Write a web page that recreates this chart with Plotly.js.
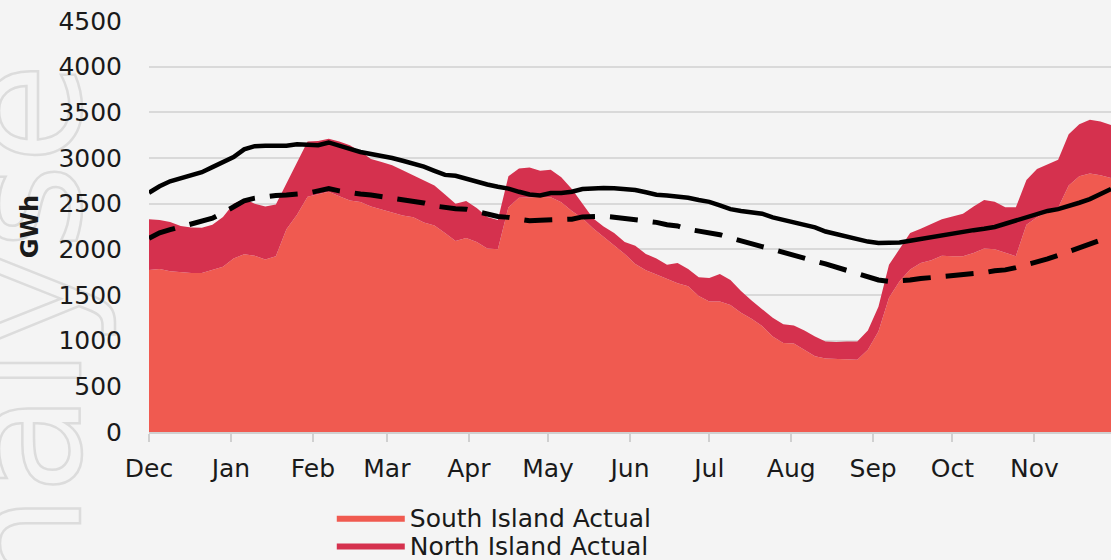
<!DOCTYPE html>
<html>
<head>
<meta charset="utf-8">
<script src="https://cdn.plot.ly/plotly-3.0.1.min.js"></script>
<style>
html,body{margin:0;padding:0;background:#f4f4f4;}
#chart{width:1111px;height:560px;}
</style>
</head>
<body>
<div id="chart"></div>
<script>
const dates = [
"2022-12-01","2022-12-05","2022-12-09","2022-12-13","2022-12-17","2022-12-21","2022-12-25","2022-12-29",
"2023-01-02","2023-01-06","2023-01-10","2023-01-14","2023-01-18","2023-01-22","2023-01-26","2023-01-30",
"2023-02-03","2023-02-07","2023-02-11","2023-02-15","2023-02-19","2023-02-23","2023-02-27",
"2023-03-03","2023-03-07","2023-03-11","2023-03-15","2023-03-19","2023-03-23","2023-03-27","2023-03-31",
"2023-04-04","2023-04-08","2023-04-12","2023-04-16","2023-04-20","2023-04-24","2023-04-28",
"2023-05-02","2023-05-06","2023-05-10","2023-05-14","2023-05-18","2023-05-22","2023-05-26","2023-05-30",
"2023-06-03","2023-06-07","2023-06-11","2023-06-15","2023-06-19","2023-06-23","2023-06-27",
"2023-07-01","2023-07-05","2023-07-09","2023-07-13","2023-07-17","2023-07-21","2023-07-25","2023-07-29",
"2023-08-02","2023-08-06","2023-08-10","2023-08-14","2023-08-18","2023-08-22","2023-08-26","2023-08-30",
"2023-09-03","2023-09-07","2023-09-11","2023-09-15","2023-09-19","2023-09-23","2023-09-27",
"2023-10-01","2023-10-05","2023-10-09","2023-10-13","2023-10-17","2023-10-21","2023-10-25","2023-10-29",
"2023-11-02","2023-11-06","2023-11-10","2023-11-14","2023-11-18","2023-11-22","2023-11-26","2023-11-30"
];

const southIsland = [
1774,1785,1760,1748,1741,1741,1775,1808,
1900,1945,1930,1890,1925,2220,2380,2575,
2604,2630,2580,2535,2519,2470,2435,
2400,2370,2350,2295,2260,2180,2090,2125,
2081,2010,2000,2460,2565,2573,2573,
2570,2515,2420,2340,2230,2140,2050,1950,
1840,1770,1725,1675,1630,1595,1490,
1430,1430,1391,1305,1240,1160,1045,975,
970,900,830,805,800,800,790,900,
1100,1470,1650,1780,1850,1880,1930,
1925,1925,1960,2010,2000,1960,1925,2270,
2350,2410,2455,2700,2800,2830,2810,2781
];

const northIsland = [
556,536,540,507,499,495,495,546,
600,610,570,580,565,500,566,605,
582,580,600,605,551,520,520,
520,495,460,460,440,420,410,405,
372,344,320,340,320,322,287,
300,275,240,160,110,110,130,130,
200,180,175,155,220,190,205,
256,300,273,240,200,185,205,205,
195,210,215,185,185,190,200,210,
270,360,350,399,375,400,400,
435,465,510,530,520,500,535,490,
530,520,525,560,570,590,590,581
];

const solidLine = [
2620,2690,2745,2775,2805,2845,2900,2955,
3010,3095,3130,3135,3130,3135,3150,3140,
3140,3170,3140,3100,3066,3045,3030,
3000,2970,2940,2905,2860,2815,2805,2770,
2740,2710,2685,2665,2630,2600,2590,
2617,2617,2630,2660,2672,2672,2670,2660,
2650,2625,2598,2590,2583,2565,2540,
2520,2480,2440,2420,2410,2390,2350,2320,
2295,2270,2240,2195,2165,2140,2110,2085,
2070,2070,2075,2095,2115,2135,2160,
2175,2195,2210,2225,2245,2280,2315,2350,
2385,2420,2440,2470,2510,2550,2610,2660
];

const dashedLine = [
2120,2180,2215,2245,2270,2300,2340,2400,
2470,2530,2560,2580,2590,2595,2600,2615,
2640,2665,2640,2620,2605,2595,2578,
2565,2555,2535,2508,2475,2455,2445,2440,
2410,2376,2360,2350,2325,2313,2318,
2321,2321,2330,2355,2365,2362,2352,2340,
2330,2310,2295,2270,2256,2220,2200,
2175,2160,2125,2090,2060,2030,2000,1965,
1930,1905,1870,1840,1805,1775,1740,1700,
1665,1650,1655,1665,1680,1690,1695,
1705,1715,1725,1745,1765,1775,1800,1830,
1860,1895,1935,1975,2010,2050,2100,2140
];

const seriesNames = ["South Island Actual", "North Island Actual"];
const yTicks = [0,500,1000,1500,2000,2500,3000,3500,4000,4500];

const FONT = "'DejaVu Sans', Inter, sans-serif";
const TXT = "#1a1a1a";

const traces = [
  {x: dates, y: southIsland, name: seriesNames[0], type: "scatter", mode: "lines", legend: "legend",
   stackgroup: "actual", fillcolor: "#F05A50", line: {width: 0, color: "#F05A50"}},
  {x: dates, y: northIsland, name: seriesNames[1], type: "scatter", mode: "lines", legend: "legend2",
   stackgroup: "actual", fillcolor: "#D5314E", line: {width: 0, color: "#D5314E"}},
  {x: dates, y: solidLine, name: "Average", type: "scatter", mode: "lines", showlegend: false,
   line: {color: "#000000", width: 4.5}},
  {x: dates, y: dashedLine, name: "Lower", type: "scatter", mode: "lines", showlegend: false,
   line: {color: "#000000", width: 5, dash: "28px,15px"}}
];

const legendBase = {orientation: "v", x: 0.19, xanchor: "left", yanchor: "middle",
  font: {size: 25, color: TXT, family: FONT}, itemwidth: 68, bgcolor: "rgba(0,0,0,0)"};

const layout = {
  width: 1111, height: 560,
  paper_bgcolor: "#f4f4f4", plot_bgcolor: "#f4f4f4",
  margin: {l: 149, r: 0, t: 21, b: 128, pad: 0, autoexpand: false},
  font: {family: FONT, color: TXT, size: 24},
  showlegend: true,
  legend: Object.assign({}, legendBase, {y: -0.209}),
  legend2: Object.assign({}, legendBase, {y: -0.277}),
  xaxis: {type: "date", range: ["2022-12-01", "2023-11-30"], tick0: "2022-12-01", dtick: "M1",
          tickformat: "%b", ticks: "outside", ticklen: 8, tickwidth: 2, tickcolor: "#d0d0d0",
          showline: true, linecolor: "#d0d0d0", linewidth: 2, showgrid: false, zeroline: false,
          tickfont: {size: 25, color: TXT, family: FONT}, ticklabelstandoff: 5},
  yaxis: {range: [0, 4500], tickvals: yTicks, ticktext: yTicks.map(String),
          showgrid: true, gridcolor: "#d9d9d9", gridwidth: 2, zeroline: false, showline: false,
          ticks: "", tickfont: {size: 25, color: TXT, family: FONT}, ticklabelstandoff: 26,
          title: {text: "<b>GWh</b>", font: {size: 24, color: TXT, family: FONT}, standoff: 12}},
  annotations: [
    {text: "analyse", xref: "paper", yref: "paper", x: -0.029, y: 0.905, xanchor: "right", yanchor: "top",
     textangle: -90, showarrow: false,
     font: {family: "'DejaVu Sans', sans-serif", size: 165, color: "rgba(0,0,0,0)"}}
  ]
};

Plotly.newPlot("chart", traces, layout, {displayModeBar: false, staticPlot: true}).then(function (gd) {
  gd.querySelectorAll("g.annotation text.annotation-text").forEach(function (t) {
    t.style.setProperty("fill", "none", "important");
    t.style.setProperty("stroke", "#dcdcdc");
    t.style.setProperty("stroke-width", "2.5px");
  });
  const ann = gd.querySelector("g.annotation");
  const bg = gd.querySelector("g.bglayer");
  if (ann && bg && bg.parentNode) {
    bg.parentNode.insertBefore(ann, bg.nextSibling);
  }
});
</script>
</body>
</html>
